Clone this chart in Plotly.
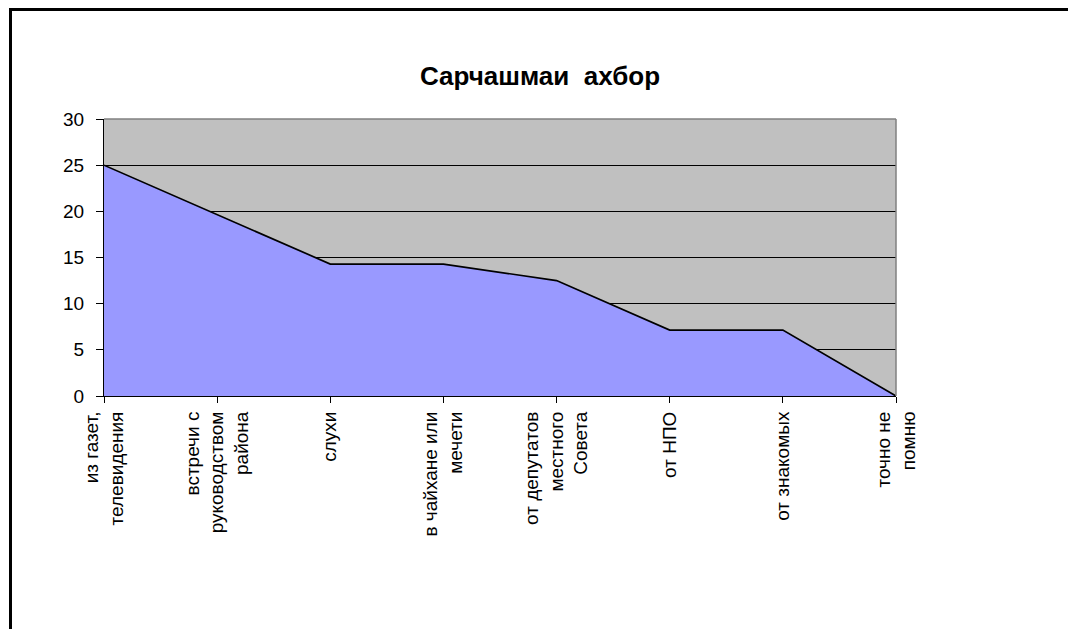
import plotly.graph_objects as go

categories = [
    "из газет,<br>телевидения",
    "встречи с<br>руководством<br>района",
    "слухи",
    "в чайхане или<br>мечети",
    "от депутатов<br>местного<br>Совета",
    "от НПО",
    "от знакомых",
    "точно не<br>помню",
]
values = [25, 19.64, 14.29, 14.29, 12.5, 7.14, 7.14, 0]
y_ticks = [0, 5, 10, 15, 20, 25, 30]
title_text = "Сарчашмаи  ахбор"

W, H = 1076, 629
L, T = 96, 111
pw, ph = 792, 277
R, B = W - L - pw, H - T - ph

x_idx = list(range(len(categories)))

fig = go.Figure()
fig.add_trace(go.Scatter(
    x=x_idx, y=values, mode="lines", fill="tozeroy",
    fillcolor="#9999FF", line=dict(color="black", width=1.7),
    hoverinfo="skip", showlegend=False,
))

font = "Liberation Sans, Arial, sans-serif"
fig.update_layout(
    width=W, height=H,
    margin=dict(l=L, r=R, t=T, b=B),
    paper_bgcolor="white", plot_bgcolor="#C0C0C0",
    font=dict(family=font, color="black", size=19),
    title=dict(text="<b>" + title_text + "</b>", x=532 / W, xanchor="center",
               y=1 - 68 / H, yanchor="middle", yref="container",
               font=dict(size=26, family=font, color="black")),
    xaxis=dict(
        range=[0, len(categories) - 1], tickmode="array", tickvals=x_idx,
        ticktext=categories, tickangle=-90, ticks="outside", ticklen=6,
        tickcolor="black", showline=True, linecolor="black", linewidth=1,
        showgrid=False, zeroline=False, tickfont=dict(size=19),
        ticklabelstandoff=1,
    ),
    yaxis=dict(
        range=[0, 30], tickmode="array", tickvals=y_ticks,
        ticks="outside", ticklen=7, tickcolor="black", showline=True,
        linecolor="black", linewidth=1, showgrid=True, gridcolor="black",
        gridwidth=1, zeroline=False, tickfont=dict(size=19),
        ticklabelstandoff=8,
    ),
    shapes=[
        dict(type="line", xref="paper", yref="paper", x0=0, x1=1, y0=1, y1=1,
             line=dict(color="#808080", width=1.5)),
        dict(type="line", xref="paper", yref="paper", x0=1, x1=1, y0=0, y1=1,
             line=dict(color="#808080", width=1.5)),
        dict(type="rect", xref="paper", yref="paper",
             x0=(2.5 - L) / pw, x1=(1100 - L) / pw,
             y0=-(660 - (T + ph)) / ph, y1=(T + ph - 1.5) / ph,
             line=dict(color="black", width=3)),
    ],
)

fig.write_html("out.html")
